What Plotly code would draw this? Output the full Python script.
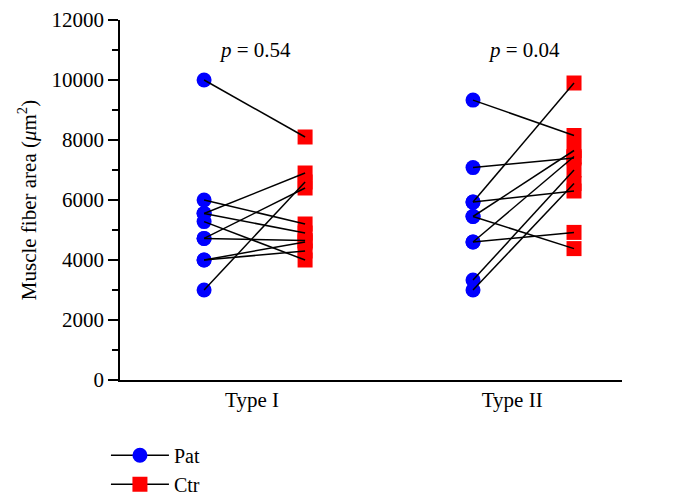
import plotly.graph_objects as go

# Data (muscle fiber area, µm²)
groups = ["Type I", "Type II"]
type1_pat = [10000, 6000, 5550, 5550, 5280, 4720, 4720, 4000, 4000, 3000]
type1_ctr = [8100, 5200, 6900, 4900, 4000, 6400, 4650, 4600, 4300, 6600]
type2_pat = [9330, 7080, 5930, 5930, 5450, 5450, 4600, 4600, 3330, 3000]
type2_ctr = [8150, 7400, 9900, 6300, 7650, 4380, 4920, 7450, 7000, 6550]
p_values = ["0.54", "0.04"]
y_ticks = [0, 2000, 4000, 6000, 8000, 10000, 12000]
y_ticktext = ["0", "2000", "4000", "6000", "8000", "10000", "12000"]

# layout constants
centers = [1.0, 2.065]
label_pos = [0.99, 2.02]
off = 0.2
FONT = "Liberation Serif"

pat_x, pat_y, ctr_x, ctr_y, lx, ly = [], [], [], [], [], []
for c, pats, ctrs in [(centers[0], type1_pat, type1_ctr), (centers[1], type2_pat, type2_ctr)]:
    for p, q in zip(pats, ctrs):
        pat_x += [c - off, None]
        pat_y += [p, None]
        ctr_x += [c + off, None]
        ctr_y += [q, None]
        lx += [c - off, c + off, None]
        ly += [p, q, None]

fig = go.Figure()
fig.add_trace(go.Scatter(x=pat_x, y=pat_y, mode="lines+markers", name="Pat",
                         line=dict(color="black", width=1.5),
                         marker=dict(symbol="circle", size=15, color="#0000FF"),
                         connectgaps=False))
fig.add_trace(go.Scatter(x=ctr_x, y=ctr_y, mode="lines+markers", name="Ctr",
                         line=dict(color="black", width=1.5),
                         marker=dict(symbol="square", size=15, color="#FF0000"),
                         connectgaps=False))
fig.add_trace(go.Scatter(x=lx, y=ly, mode="lines", showlegend=False,
                         line=dict(color="black", width=1.5), hoverinfo="skip"))

for c, pv in zip(centers, p_values):
    fig.add_annotation(x=c, y=11000, text=f"<i>p</i> = {pv}", showarrow=False,
                       font=dict(family=FONT, size=21, color="black"))

fig.update_layout(
    width=675, height=504,
    margin=dict(l=112, r=61, t=12, b=132, autoexpand=False),
    paper_bgcolor="white", plot_bgcolor="white",
    font=dict(family=FONT, size=20, color="black"),
    showlegend=True,
    legend=dict(x=-0.028, y=-0.155, xanchor="left", yanchor="top",
                font=dict(family=FONT, size=20), bgcolor="rgba(0,0,0,0)",
                tracegroupgap=0, itemwidth=58),
)
fig.update_xaxes(range=[0.467, 2.455], showgrid=False, zeroline=False,
                 showline=True, linecolor="black", linewidth=1.5,
                 tickmode="array", tickvals=label_pos, ticktext=groups,
                 ticks="", tickfont=dict(family=FONT, size=21), automargin=False)
fig.update_yaxes(range=[0, 12000], showgrid=False, zeroline=False,
                 showline=True, linecolor="black", linewidth=1.5,
                 tickmode="array", tickvals=y_ticks, ticktext=y_ticktext,
                 ticks="outside", ticklen=10, tickwidth=1.5, tickcolor="black",
                 minor=dict(tickvals=[1000, 3000, 5000, 7000, 9000, 11000],
                            ticks="outside", ticklen=6, tickwidth=1.5, tickcolor="black"),
                 tickfont=dict(family=FONT, size=21), automargin=False,
                 title=dict(text="Muscle fiber area (<i>μ</i>m<sup>2</sup>)",
                            font=dict(family=FONT, size=21), standoff=9))

fig.write_html("out.html")
